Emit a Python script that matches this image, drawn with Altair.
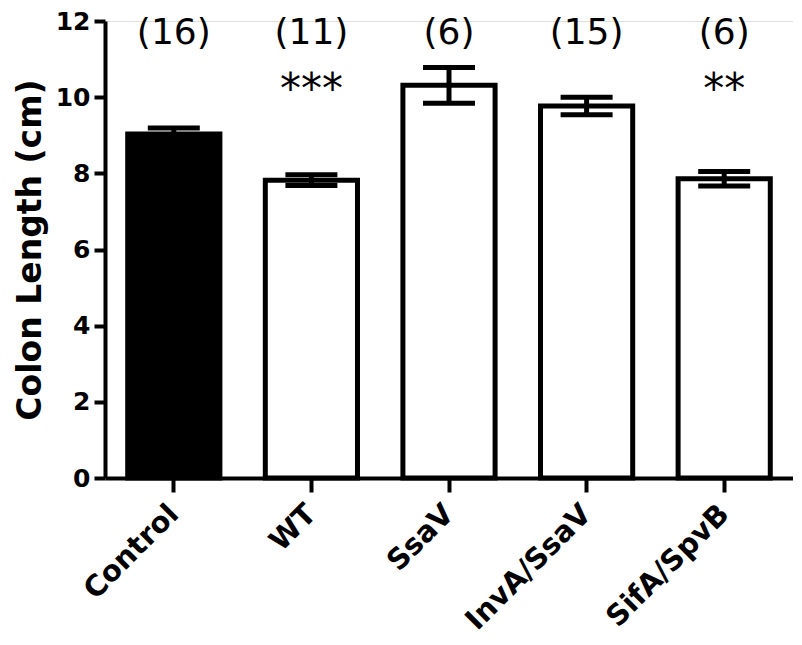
import altair as alt
import pandas as pd

groups = ["Control", "WT", "SsaV", "InvA/SsaV", "SifA/SpvB"]
means = [9.03, 7.82, 10.31, 9.77, 7.86]
sems = [0.16, 0.14, 0.47, 0.23, 0.19]
counts = ["(16)", "(11)", "(6)", "(15)", "(6)"]
stars = ["", "***", "", "", "**"]
fills = ["black", "white", "white", "white", "white"]

df = pd.DataFrame({
    "group": groups,
    "mean": means,
    "sem": sems,
    "n": counts,
    "star": stars,
    "fill": fills,
})
df["lo"] = df["mean"] - df["sem"]
df["hi"] = df["mean"] + df["sem"]

FONT = "DejaVu Sans"

x = alt.X(
    "group:N",
    sort=groups,
    title=None,
    scale=alt.Scale(paddingInner=0.33, paddingOuter=0.165),
    axis=alt.Axis(
        labelAngle=-45,
        labelAlign="right",
        labelBaseline="middle",
        labelFont=FONT,
        labelFontSize=29,
        labelFontWeight="bold",
        labelColor="black",
        labelPadding=17,
        tickSize=14,
        tickWidth=4,
        tickColor="black",
        domainWidth=4,
        domainColor="black",
    ),
)

y_scale = alt.Scale(domain=[0, 12], nice=False)

base = alt.Chart(df)

bars = base.mark_bar(stroke="black", strokeWidth=5).encode(
    x=x,
    y=alt.Y(
        "mean:Q",
        scale=y_scale,
        title="Colon Length (cm)",
        axis=alt.Axis(
            values=[0, 2, 4, 6, 8, 10, 12],
            grid=False,
            labelFont=FONT,
            labelFontSize=25,
            labelFontWeight="bold",
            labelColor="black",
            labelPadding=4,
            tickSize=11,
            tickWidth=4,
            tickColor="black",
            domainWidth=4,
            domainColor="black",
            titleFont=FONT,
            titleFontSize=33,
            titleFontWeight="bold",
            titleColor="black",
            titlePadding=8,
        ),
    ),
    fill=alt.Fill("fill:N", scale=None),
)

err = base.mark_rule(color="black", strokeWidth=5).encode(
    x=alt.X("group:N", sort=groups),
    y=alt.Y("lo:Q", scale=y_scale),
    y2="hi:Q",
)

cap_hi = base.mark_tick(color="black", opacity=1, size=52, thickness=5, orient="horizontal").encode(
    x=alt.X("group:N", sort=groups),
    y=alt.Y("hi:Q", scale=y_scale),
)
cap_lo = base.mark_tick(color="black", opacity=1, size=52, thickness=5, orient="horizontal").encode(
    x=alt.X("group:N", sort=groups),
    y=alt.Y("lo:Q", scale=y_scale),
)

n_text = base.mark_text(font=FONT, fontSize=36, color="black", baseline="alphabetic").encode(
    x=alt.X("group:N", sort=groups),
    y=alt.value(23),
    text="n:N",
)

star_text = base.mark_text(font=FONT, fontSize=42, color="black", baseline="alphabetic").encode(
    x=alt.X("group:N", sort=groups),
    y=alt.value(82),
    text="star:N",
)

chart = alt.layer(bars, err, cap_hi, cap_lo, n_text, star_text).properties(
    width=688,
    height=457,
    autosize=alt.AutoSizeParams(type="none"),
    padding={"left": 97, "top": 13, "right": 0, "bottom": 165},
).configure_view(stroke=None).configure(background="white")

chart.save("out.html", embed_options={"renderer": "svg", "actions": False})
